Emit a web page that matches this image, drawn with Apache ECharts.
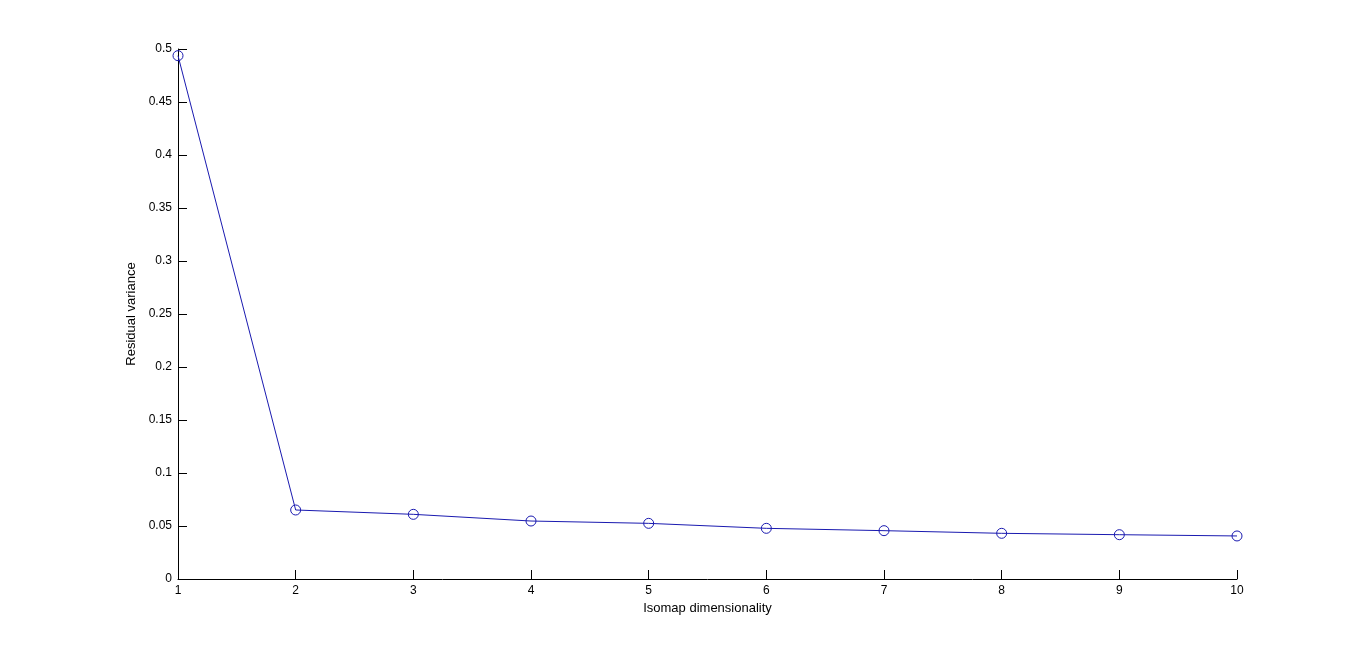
<!DOCTYPE html>
<html>
<head>
<meta charset="utf-8">
<script src="https://cdn.jsdelivr.net/npm/echarts@6/dist/echarts.min.js"></script>
<style>html,body{margin:0;padding:0;background:#fff}#c{width:1367px;height:652px}</style>
</head>
<body>
<div id="c"></div>
<script>
const dims = [1, 2, 3, 4, 5, 6, 7, 8, 9, 10];
const residualVariance = [0.4937, 0.0651, 0.0610, 0.0547, 0.0525, 0.0478, 0.0456, 0.0431, 0.0418, 0.0406];
const xTitle = 'Isomap dimensionality';
const yTitle = 'Residual variance';

const chart = echarts.init(document.getElementById('c'));
const font = 'Liberation Sans, Arial, sans-serif';
chart.setOption({
  animation: false,
  backgroundColor: '#fff',
  grid: { left: 178, right: 130, top: 49, bottom: 73, containLabel: false },
  xAxis: {
    type: 'value', min: 1, max: 10, interval: 1,
    name: xTitle, nameLocation: 'middle', nameGap: 23,
    nameTextStyle: { color: '#000', fontSize: 13, fontFamily: font },
    axisLine: { show: true, lineStyle: { color: '#000', width: 1 } },
    axisTick: { show: true, inside: true, length: 9, lineStyle: { color: '#000' } },
    axisLabel: { color: '#000', fontSize: 12, fontFamily: font, margin: 6 },
    splitLine: { show: false }
  },
  yAxis: {
    type: 'value', min: 0, max: 0.5, interval: 0.05,
    name: yTitle, nameLocation: 'middle', nameGap: 37,
    nameTextStyle: { color: '#000', fontSize: 13, fontFamily: font },
    axisLine: { show: true, lineStyle: { color: '#000', width: 1 } },
    axisTick: { show: true, inside: true, length: 9, lineStyle: { color: '#000' } },
    axisLabel: { color: '#000', fontSize: 12, fontFamily: font, margin: 6,
      formatter: v => String(parseFloat(v.toFixed(2))) },
    splitLine: { show: false }
  },
  series: [{
    type: 'line',
    data: dims.map((d, i) => [d, residualVariance[i]]),
    symbol: 'circle', symbolSize: 10,
    lineStyle: { color: '#1a1ab0', width: 1 },
    itemStyle: { color: 'rgba(255,255,255,0)', borderColor: '#1a1ab0', borderWidth: 1 }
  }]
});
</script>
</body>
</html>
